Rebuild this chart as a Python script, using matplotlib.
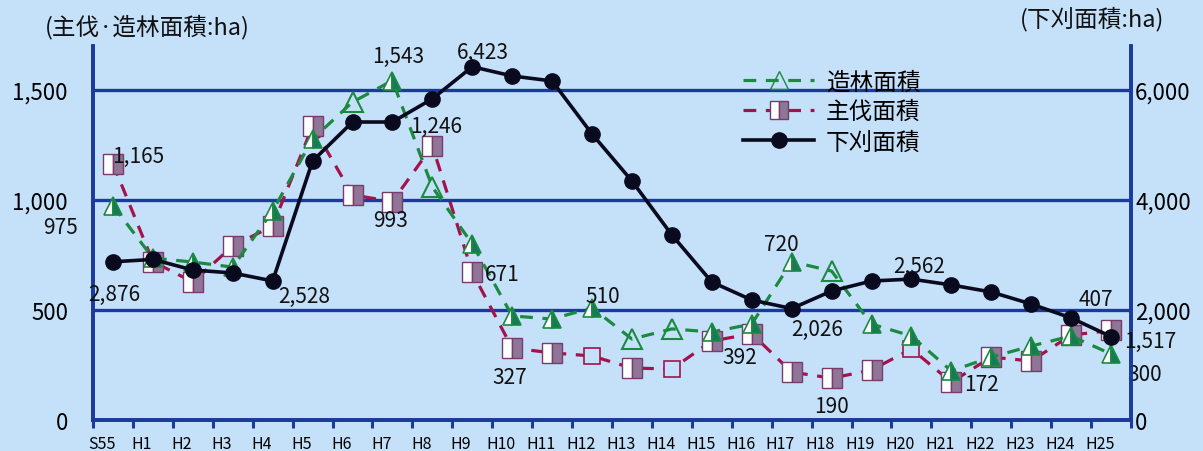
import matplotlib.pyplot as plt
from matplotlib.lines import Line2D
from matplotlib.ticker import FixedLocator

plt.rcParams["font.family"] = ["Noto Sans CJK JP", "DejaVu Sans"]

# data (ha)
years = ["S55", "H1", "H2", "H3", "H4", "H5", "H6", "H7", "H8", "H9", "H10",
         "H11", "H12", "H13", "H14", "H15", "H16", "H17", "H18", "H19", "H20",
         "H21", "H22", "H23", "H24", "H25"]
zorin = [975, 736, 718, 695, 950, 1277, 1445, 1543, 1059, 800, 473, 459, 510,
         368, 414, 400, 436, 720, 677, 436, 382, 223, 286, 336, 382, 300]
shubatsu = [1165, 720, 627, 791, 882, 1336, 1023, 993, 1246, 671, 327, 305,
            291, 236, 232, 359, 392, 218, 190, 227, 323, 172, 286, 268, 386, 407]
shitakari = [2876, 2920, 2727, 2673, 2528, 4709, 5418, 5418, 5840, 6423, 6255,
             6164, 5200, 4345, 3364, 2509, 2182, 2026, 2345, 2527, 2562, 2455,
             2327, 2109, 1855, 1517]
left_ticks = [0, 500, 1000, 1500]
right_ticks = [0, 2000, 4000, 6000]

# points drawn as empty outlines in the original
zorin_hollow = [6, 8, 13, 14, 18]
shubatsu_hollow = [12, 14, 20]

# labelled points: (series, index, text, dx px, dy px)
labels = [
    ("z", 0, "975", -52, 21), ("s", 0, "1,165", 25, -8), ("k", 0, "2,876", 1, 32),
    ("k", 4, "2,528", 32, 15), ("z", 7, "1,543", 6, -25), ("k", 9, "6,423", 11, -15),
    ("s", 8, "1,246", 4, -20), ("s", 7, "993", -2, 18), ("s", 9, "671", 30, 2),
    ("s", 10, "327", -2, 29), ("z", 12, "510", 11, -12), ("z", 17, "720", -10, -18),
    ("s", 16, "392", -12, 23), ("k", 17, "2,026", 25, 20), ("s", 18, "190", 0, 28),
    ("k", 20, "2,562", 8, -13), ("s", 21, "172", 30, 2), ("s", 25, "407", -15, -31),
    ("k", 25, "1,517", 39, 4), ("z", 25, "300", 34, 20),
]

bg = "#c5e1fa"
navy = "#1a3a9c"
green = "#1b8a40"
crimson = "#a4124c"
dash = (0, (4, 3))

fig = plt.figure(figsize=(12.03, 4.52), dpi=100, facecolor=bg)
ax = fig.add_axes([93 / 1203, 31 / 452, 1038 / 1203, 374 / 452])
ax.set_facecolor(bg)
x = list(range(len(years)))

for v in left_ticks[1:]:
    ax.axhline(v, color=navy, lw=2.4, zorder=1)

# 造林面積
ax.plot(x, zorin, color=green, lw=2.3, ls=dash, zorder=3)
filled = [i for i in x if i not in zorin_hollow]
ax.plot(x, zorin, ls="none", marker="^", ms=13, markevery=filled,
        mfc="white", mfcalt="#157a55", fillstyle="left", mec=green, mew=1.2,
        zorder=3)
ax.plot(x, zorin, ls="none", marker="^", ms=14, markevery=zorin_hollow,
        mfc="none", mec=green, mew=1.5, zorder=3)

# 主伐面積
ax.plot(x, shubatsu, color=crimson, lw=2.3, ls=dash, zorder=2)
filled = [i for i in x if i not in shubatsu_hollow]
ax.plot(x, shubatsu, ls="none", marker="s", ms=14, markevery=filled,
        mfc="white", mfcalt="#8f7597", fillstyle="left", mec="#7a3a6a",
        mew=1.0, zorder=2)
ax.plot(x, shubatsu, ls="none", marker="s", ms=12, markevery=shubatsu_hollow,
        mfc=bg, mec=crimson, mew=1.2, zorder=2)

ax.set_xlim(-0.5, 25.5)
ax.set_ylim(0, 1700)
ax.set_yticks(left_ticks)
ax.set_yticklabels(["0", "500", "1,000", "1,500"])
ax.tick_params(axis="y", length=0, pad=18, labelsize=16)
ax.xaxis.set_major_locator(FixedLocator([i - 0.28 for i in x]))
ax.set_xticklabels(years)
ax.xaxis.set_minor_locator(FixedLocator([i - 0.5 for i in range(len(years) + 1)]))
ax.tick_params(axis="x", which="major", length=0, pad=11, labelsize=11.5)
ax.tick_params(axis="x", which="minor", length=6, width=2.2, color=navy,
               direction="out")

# 下刈面積 on the right axis
ax2 = ax.twinx()
ax2.plot(x, shitakari, color="#0a0a1e", lw=2.6, marker="o", ms=11, zorder=4)
ax2.set_ylim(0, 6800)
ax2.set_yticks(right_ticks)
ax2.set_yticklabels(["0", "2,000", "4,000", "6,000"])
ax2.tick_params(axis="y", length=0, pad=3, labelsize=16)

for a in (ax, ax2):
    a.spines["top"].set_visible(False)
    for s in ("left", "right", "bottom"):
        a.spines[s].set_color(navy)
        a.spines[s].set_linewidth(2.6)

series = {"z": (ax, zorin), "s": (ax, shubatsu), "k": (ax2, shitakari)}
for key, i, txt, dx, dy in labels:
    a, vals = series[key]
    a.annotate(txt, xy=(i, vals[i]), xytext=(dx * 0.72, -dy * 0.72),
               textcoords="offset points", ha="center", va="center",
               fontsize=15, color="#111111", zorder=6, annotation_clip=False)

fig.text(45 / 1203, 1 - 27 / 452, "(主伐·造林面積:ha)", fontsize=17,
         ha="left", va="center", color="#111111")
fig.text(1020 / 1203, 1 - 19 / 452, "(下刈面積:ha)", fontsize=17,
         ha="left", va="center", color="#111111")

handles = [
    Line2D([], [], color=green, lw=2.3, ls=dash, marker="^", ms=13,
           mfc="none", mec=green),
    Line2D([], [], color=crimson, lw=2.3, ls=dash, marker="s", ms=13,
           mfc="white", mfcalt="#8f7597", fillstyle="left", mec="#7a3a6a"),
    Line2D([], [], color="#0a0a1e", lw=2.6, marker="o", ms=11),
]
ax2.legend(handles, ["造林面積", "主伐面積", "下刈面積"], loc="upper left",
           bbox_to_anchor=(722 / 1203, 1 - 50 / 452),
           bbox_transform=fig.transFigure, frameon=False, fontsize=17,
           handlelength=3.0, labelspacing=0.3, handletextpad=0.5)

fig.savefig("out.png", dpi=100, facecolor=bg)
